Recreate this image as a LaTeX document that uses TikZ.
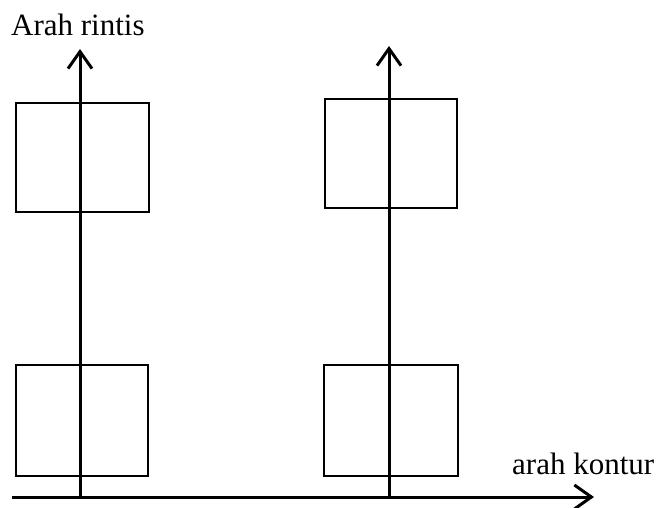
\documentclass[tikz,border=0pt]{standalone}
\usepackage{fontspec}
\setmainfont{Liberation Serif}
\usetikzlibrary{arrows.meta}
\begin{document}
\begin{tikzpicture}[x=1pt,y=-1pt,
  plot/.style={draw=black,line width=2.4pt,rectangle,inner sep=0pt},
  axis/.style={line width=3pt,-{Straight Barb[length=17pt,width=24pt,line width=3pt]}},
  lbl/.style={font=\fontsize{31}{33}\selectfont,inner sep=0pt,anchor=base west}]
\useasboundingbox (0,0) rectangle (660,507);
% sample plots
\node[plot,minimum width=133pt,minimum height=109pt] (p1) at (82.5,157.5) {};
\node[plot,minimum width=132pt,minimum height=111pt] (p2) at (82,420.5) {};
\node[plot,minimum width=132pt,minimum height=109pt] (p3) at (391,153.5) {};
\node[plot,minimum width=134pt,minimum height=111pt] (p4) at (391,420.5) {};
% axes
\coordinate (o) at (12,497);
\coordinate (xe) at (594,497);
\coordinate (b1) at (80,497);
\coordinate (t1) at (80,49);
\coordinate (b2) at (389,497);
\coordinate (t2) at (389,46);
\draw[axis] (o) -- (xe);
\draw[axis] (b1) -- (t1);
\draw[axis] (b2) -- (t2);
% labels
\node[lbl] (ly) at (11,35) {Arah rintis};
\node[lbl] (lx) at (512,474) {arah kontur};
\end{tikzpicture}
\end{document}
